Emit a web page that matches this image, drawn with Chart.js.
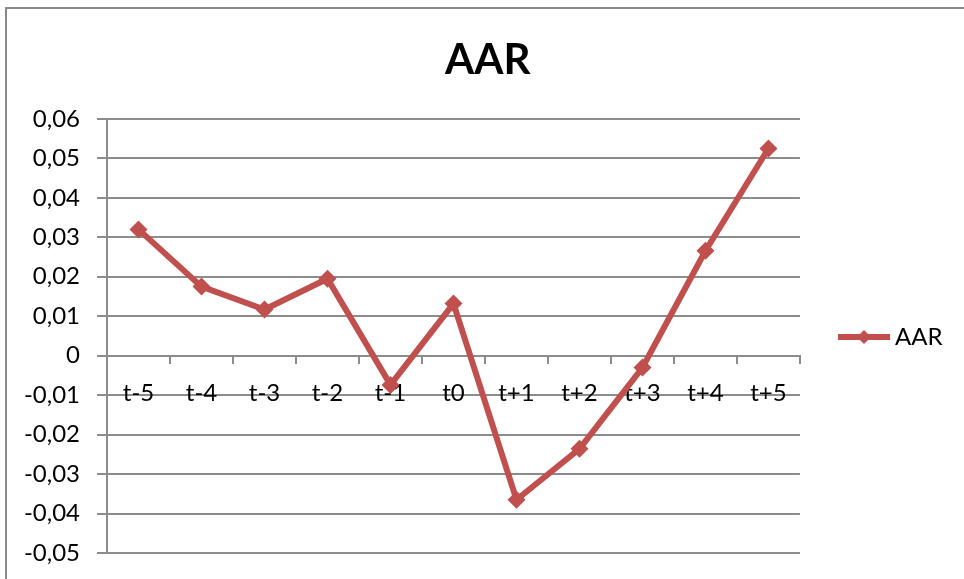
<!DOCTYPE html>
<html>
<head>
<meta charset="utf-8">
<script src="https://cdn.jsdelivr.net/npm/chart.js@4.4.1/dist/chart.umd.min.js"></script>
<style>
    html, body { margin: 0; padding: 0; background: #fff; overflow: hidden; }
    #wrap { position: relative; width: 964px; height: 579px; }
    #frame {
        position: absolute; left: 5px; top: 7px; width: 1000px; height: 620px;
        border: 2px solid #8a8a8a; box-sizing: border-box;
    }
    canvas { position: absolute; left: 0; top: 0; }
</style>
</head>
<body>
<div id="wrap">
    <div id="frame"></div>
    <canvas id="chart-aar" width="964" height="579"></canvas>
</div>
<script>
// Dados
const categorias = ['t-5', 't-4', 't-3', 't-2', 't-1', 't0', 't+1', 't+2', 't+3', 't+4', 't+5'];
const valoresAAR = [0.032, 0.0175, 0.0117, 0.0195, -0.0074, 0.0132, -0.0365, -0.0236, -0.003, 0.0266, 0.0525];
const eixoY = { min: -0.05, max: 0.06, passo: 0.01 };

const COR = '#C0504D';
const CINZA = '#8c8c8c';
const FONTE = 'Lato, "Liberation Sans", sans-serif';

// Ícone da legenda: linha com losango (estilo Excel)
function iconeLegenda() {
    const c = document.createElement('canvas');
    c.width = 52; c.height = 18;
    const g = c.getContext('2d');
    g.strokeStyle = COR; g.lineWidth = 6;
    g.beginPath(); g.moveTo(0, 9); g.lineTo(52, 9); g.stroke();
    g.fillStyle = COR;
    g.beginPath(); g.moveTo(26, 2); g.lineTo(33, 9); g.lineTo(26, 16); g.lineTo(19, 9); g.closePath(); g.fill();
    return c;
}

const ctx = document.getElementById('chart-aar').getContext('2d');
new Chart(ctx, {
    type: 'line',
    data: {
        labels: categorias,
        datasets: [{
            label: 'AAR',
            data: valoresAAR,
            borderColor: COR,
            backgroundColor: COR,
            borderWidth: 6,
            pointStyle: 'rectRot',
            pointRadius: 9,
            pointBorderWidth: 0,
            tension: 0
        }]
    },
    options: {
        responsive: false,
        animation: false,
        layout: { padding: { top: 18, left: 23, right: 11.5, bottom: 17 } },
        scales: {
            x: {
                position: { y: 0 },
                offset: true,
                grid: { offset: true, drawOnChartArea: false, color: CINZA, lineWidth: 2, tickLength: 7 },
                border: { color: CINZA, width: 2 },
                ticks: { color: '#000', padding: 16, font: { family: FONTE, size: 24 }, maxRotation: 0 }
            },
            y: {
                min: eixoY.min,
                max: eixoY.max,
                afterFit: s => { s.width = 84; },
                grid: { color: CINZA, lineWidth: 2, tickLength: 10 },
                border: { color: CINZA, width: 2 },
                ticks: {
                    stepSize: eixoY.passo,
                    color: '#000',
                    padding: 17,
                    font: { family: FONTE, size: 24, lineHeight: 0.75 },
                    callback: v => {
                        const r = Math.round(v * 100) / 100;
                        return r === 0 ? '0' : r.toFixed(2).replace('.', ',');
                    }
                }
            }
        },
        plugins: {
            title: {
                display: true,
                text: 'AAR',
                color: '#000',
                font: { family: FONTE, size: 42, weight: 'bold' },
                padding: { top: 17, bottom: 33.5 }
            },
            legend: {
                position: 'right',
                // título vazio só para baixar a legenda até a altura do Excel
                title: { display: true, text: '', font: { size: 10, lineHeight: 1 }, padding: { top: 0, bottom: 84 } },
                labels: {
                    color: '#000',
                    font: { family: FONTE, size: 24 },
                    usePointStyle: true,
                    pointStyleWidth: 38,
                    padding: 45,
                    generateLabels: () => [{
                        text: 'AAR',
                        fontColor: '#000',
                        pointStyle: iconeLegenda(),
                        fillStyle: COR,
                        strokeStyle: COR,
                        lineWidth: 0,
                        hidden: false,
                        datasetIndex: 0
                    }]
                }
            },
            tooltip: { enabled: false }
        }
    }
});
</script>
</body>
</html>
